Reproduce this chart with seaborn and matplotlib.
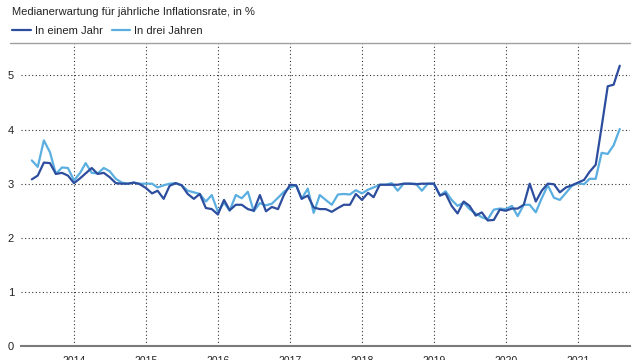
import matplotlib
matplotlib.use("Agg")
import matplotlib.pyplot as plt
import seaborn as sns
import pandas as pd
import numpy as np

# Monthly data, June 2013 - August 2021
start_month = "2013-06-01"
n_months = 99

one_year = [
    3.08, 3.15, 3.39, 3.38, 3.18, 3.20, 3.15,                       # 2013 Jun-Dec
    3.01, 3.10, 3.19, 3.29, 3.18, 3.20, 3.12, 3.01, 3.00, 3.00, 3.02, 2.99,  # 2014
    2.92, 2.82, 2.87, 2.72, 2.96, 3.01, 2.97, 2.81, 2.72, 2.81, 2.55, 2.53,  # 2015
    2.43, 2.70, 2.51, 2.61, 2.61, 2.53, 2.50, 2.79, 2.49, 2.57, 2.53, 2.79,  # 2016
    2.98, 2.97, 2.72, 2.78, 2.56, 2.53, 2.53, 2.48, 2.55, 2.61, 2.61, 2.81,  # 2017
    2.70, 2.83, 2.75, 2.98, 2.98, 2.98, 2.98, 3.00, 3.00, 2.99, 3.00, 3.00,  # 2018
    3.00, 2.78, 2.82, 2.59, 2.45, 2.67, 2.59, 2.41, 2.47, 2.32, 2.33, 2.52,  # 2019
    2.50, 2.54, 2.54, 2.61, 3.00, 2.67, 2.87, 3.00, 2.99, 2.84, 2.93, 2.97,  # 2020
    3.02, 3.07, 3.22, 3.35, 4.05, 4.80, 4.83, 5.18,                  # 2021 Jan-Aug
]

three_years = [
    3.43, 3.31, 3.80, 3.58, 3.18, 3.30, 3.29,                        # 2013 Jun-Dec
    3.06, 3.20, 3.38, 3.20, 3.19, 3.29, 3.23, 3.09, 3.02, 3.00, 3.02, 3.00,  # 2014
    3.00, 3.00, 2.93, 2.97, 3.00, 3.01, 2.97, 2.87, 2.84, 2.81, 2.67, 2.79,  # 2015
    2.48, 2.65, 2.50, 2.79, 2.73, 2.85, 2.49, 2.64, 2.60, 2.63, 2.74, 2.85,  # 2016
    2.93, 2.97, 2.72, 2.91, 2.46, 2.79, 2.70, 2.61, 2.80, 2.81, 2.80, 2.88,  # 2017
    2.82, 2.89, 2.93, 2.98, 2.98, 3.01, 2.87, 3.00, 3.00, 3.00, 2.87, 3.00,  # 2018
    3.00, 2.78, 2.86, 2.70, 2.59, 2.65, 2.53, 2.45, 2.38, 2.34, 2.52, 2.54,  # 2019
    2.53, 2.59, 2.40, 2.61, 2.61, 2.47, 2.73, 2.97, 2.74, 2.70, 2.83, 2.96,  # 2020
    3.01, 2.99, 3.09, 3.09, 3.57, 3.55, 3.71, 4.01,                  # 2021 Jan-Aug
]

series_names = ["In einem Jahr", "In drei Jahren"]
series_colors = ["#2d4d9e", "#5aaee0"]
year_ticks = list(range(2014, 2022))
y_ticks = [0, 1, 2, 3, 4, 5]
title = "Medianerwartung für jährliche Inflationsrate, in %"

dates = pd.date_range(start_month, periods=n_months, freq="MS")
df = pd.DataFrame({
    "Datum": np.concatenate([dates, dates]),
    "Wert": one_year + three_years,
    "Reihe": [series_names[0]] * n_months + [series_names[1]] * n_months,
})

sns.set_theme(style="white")
plt.rcParams["font.family"] = ["Liberation Sans", "DejaVu Sans"]

FS = 7.5
fig = plt.figure(figsize=(6.4, 3.6), dpi=100)
ax = fig.add_axes([21 / 640, 1 - 346 / 360, (630 - 21) / 640, (346 - 43) / 360])

# grid
for yv in y_ticks[1:]:
    ax.axhline(yv, color="#333333", lw=0.8, ls=(0, (1, 2.2)), zorder=1)
for yr in year_ticks:
    ax.axvline(pd.Timestamp(f"{yr}-01-01"), color="#333333", lw=0.8,
               ls=(0, (1, 2.2)), zorder=1)

sns.lineplot(data=df, x="Datum", y="Wert", hue="Reihe",
             palette=dict(zip(series_names, series_colors)),
             hue_order=[series_names[1], series_names[0]],
             lw=1.6, ax=ax, legend=False, zorder=3)

ax.set_xlim(pd.Timestamp("2013-04-07"), pd.Timestamp("2021-09-22"))
ax.set_ylim(0, 5.6)
ax.set_yticks(y_ticks)
ax.set_yticklabels([str(v) for v in y_ticks])
ax.set_xticks([pd.Timestamp(f"{yr}-01-01") for yr in year_ticks])
ax.set_xticklabels([str(yr) for yr in year_ticks])
ax.tick_params(axis="y", length=0, pad=5, labelsize=FS + 0.5, colors="#222222")
ax.tick_params(axis="x", length=0, pad=7, labelsize=FS, colors="#222222")
ax.set_xlabel("")
ax.set_ylabel("")

for s in ["left", "right"]:
    ax.spines[s].set_visible(False)
ax.spines["top"].set_visible(False)
ax.spines["bottom"].set_color("#7a7a7a")
ax.spines["bottom"].set_linewidth(1.5)

# top rule
fig.add_artist(plt.Line2D([10 / 640, 630 / 640], [1 - 43 / 360, 1 - 43 / 360],
                          color="#a0a0a0", lw=1.0))

fig.text(12 / 640, 1 - 12 / 360, title, fontsize=FS + 0.5, va="center",
         ha="left", color="#222222")

handles = [plt.Line2D([], [], color=c, lw=1.6) for c in series_colors]
fig.legend(handles, series_names, loc="center left",
           bbox_to_anchor=(12 / 640, 1 - 31 / 360), ncol=2, frameon=False,
           fontsize=FS + 0.5, handlelength=1.7, handletextpad=0.35,
           columnspacing=0.8, borderpad=0, borderaxespad=0,
           labelcolor="#222222")

fig.savefig("out.png", dpi=100)
